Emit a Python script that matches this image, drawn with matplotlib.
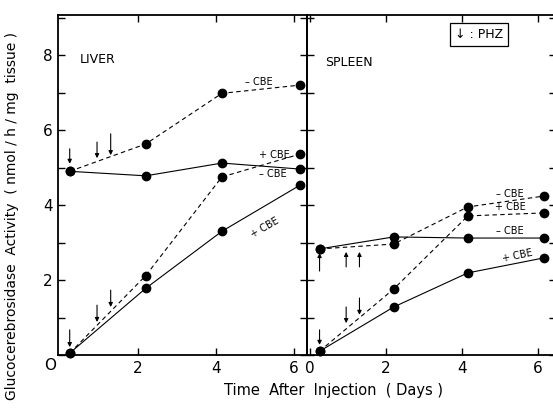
import matplotlib.pyplot as plt
from matplotlib.ticker import MultipleLocator

# days after injection (sampling points)
days = [0.25, 2.2, 4.15, 6.15]

# LIVER, nmol/h/mg tissue
liver_minus_dash = [4.9, 5.63, 6.98, 7.2]
liver_minus_solid = [4.9, 4.78, 5.12, 4.96]
liver_plus_dash = [0.05, 2.12, 4.75, 5.36]
liver_plus_solid = [0.05, 1.78, 3.3, 4.53]

# SPLEEN
spleen_minus_dash = [2.83, 2.96, 3.95, 4.24]
spleen_minus_solid = [2.83, 3.15, 3.12, 3.12]
spleen_plus_dash = [0.1, 1.76, 3.71, 3.79]
spleen_plus_solid = [0.1, 1.28, 2.19, 2.59]

# PHZ injection days
phz_days = [0.25, 0.95, 1.3]

W, H = 553, 413
fig = plt.figure(figsize=(W / 100, H / 100), dpi=100)
plt.rcParams['font.family'] = ['DejaVu Sans']


def fx(px):
    return px / W


def fy(py):
    return 1 - py / H


def setup(ax, xlim):
    ax.set_xlim(*xlim)
    ax.set_ylim(0, 9.07)
    ax.xaxis.set_major_locator(MultipleLocator(2))
    ax.yaxis.set_major_locator(MultipleLocator(2))
    ax.yaxis.set_minor_locator(MultipleLocator(1))
    ax.tick_params(which='both', direction='in', top=True, right=True,
                   length=5, width=1, labelsize=11, pad=4)
    for s in ax.spines.values():
        s.set_linewidth(1.3)
    ax.patch.set_alpha(0)


def draw_series(ax, minus_dash, minus_solid, plus_dash, plus_solid):
    kw = dict(color='k', marker='o', ms=6, lw=0.8, clip_on=False)
    ax.plot(days, minus_dash, ls=(0, (4, 3)), **kw)
    ax.plot(days, plus_dash, ls=(0, (4, 3)), **kw)
    ax.plot(days, minus_solid, ls='-', **kw)
    ax.plot(days, plus_solid, ls='-', **kw)


def arrow(ax, x, y_from, y_to):
    ax.annotate('', xy=(x, y_to), xytext=(x, y_from),
                arrowprops=dict(arrowstyle='-|>', lw=0.8, color='k',
                                mutation_scale=6, shrinkA=0, shrinkB=0))


# liver panel
ax1 = fig.add_axes([fx(58), fy(355), fx(307 - 58), fy(15) - fy(355)])
setup(ax1, (-0.05, 6.33))
draw_series(ax1, liver_minus_dash, liver_minus_solid,
            liver_plus_dash, liver_plus_solid)
ax1.set_xticks([2, 4, 6])
ax1.set_xticklabels(['2', '4', '6'])
ax1.set_yticks([2, 4, 6, 8])
ax1.set_yticklabels(['2', '4', '6', '8'])
ax1.text(0.5, 7.8, 'LIVER', fontsize=9)

for x, y0, y1 in zip(phz_days, [5.5, 5.68, 5.9], [5.1, 5.25, 5.33]):
    arrow(ax1, x, y0, y1)
for x, y0, y1 in zip(phz_days, [0.67, 1.33, 1.73], [0.21, 0.88, 1.28]):
    arrow(ax1, x, y0, y1)

ax1.text(5.1, 7.28, '\u2013 CBE', fontsize=7, va='center', ha='center')
ax1.text(5.5, 5.33, '+ CBE', fontsize=7, va='center', ha='center')
ax1.text(5.45, 4.83, '\u2013 CBE', fontsize=7, va='center', ha='center')
ax1.text(5.25, 3.4, '+ CBE', fontsize=7, va='center', ha='center',
         rotation=30)

# spleen panel
ax2 = fig.add_axes([fx(307), fy(355), fx(556 - 307), fy(15) - fy(355)])
setup(ax2, (-0.08, 6.47))
draw_series(ax2, spleen_minus_dash, spleen_minus_solid,
            spleen_plus_dash, spleen_plus_solid)
ax2.set_xticks([0, 2, 4, 6])
ax2.set_xticklabels(['0', '2', '4', '6'])
ax2.tick_params(axis='y', labelleft=False)
ax2.yaxis.set_major_locator(MultipleLocator(1))
ax2.text(0.4, 7.7, 'SPLEEN', fontsize=9)

for x, y0, y1 in zip(phz_days, [2.24, 2.35, 2.35], [2.72, 2.75, 2.75]):
    arrow(ax2, x, y0, y1)
for x, y0, y1 in zip(phz_days, [0.67, 1.28, 1.52], [0.27, 0.85, 1.07]):
    arrow(ax2, x, y0, y1)

ax2.text(5.26, 4.3, '\u2013 CBE', fontsize=7, va='center', ha='center')
ax2.text(5.26, 3.95, '+ CBE', fontsize=7, va='center', ha='center')
ax2.text(5.26, 3.3, '\u2013 CBE', fontsize=7, va='center', ha='center')
ax2.text(5.45, 2.64, '+ CBE', fontsize=7, va='center', ha='center',
         rotation=12)

ax2.text(4.45, 8.55, '\u2193 : PHZ', fontsize=9, va='center', ha='center',
         bbox=dict(boxstyle='square,pad=0.4', fc='white', ec='k', lw=0.9))

# shared corner zero and axis labels
fig.text(fx(50), fy(366), 'O', fontsize=11, ha='center', va='center')
fig.text(fx(333), fy(390), 'Time  After  Injection  ( Days )', fontsize=10.5,
         ha='center', va='center')
fig.text(fx(12), fy(216),
         'Glucocerebrosidase  Activity  ( nmol / h / mg  tissue )',
         fontsize=10, ha='center', va='center', rotation=90)

fig.savefig('out.png', dpi=100)
